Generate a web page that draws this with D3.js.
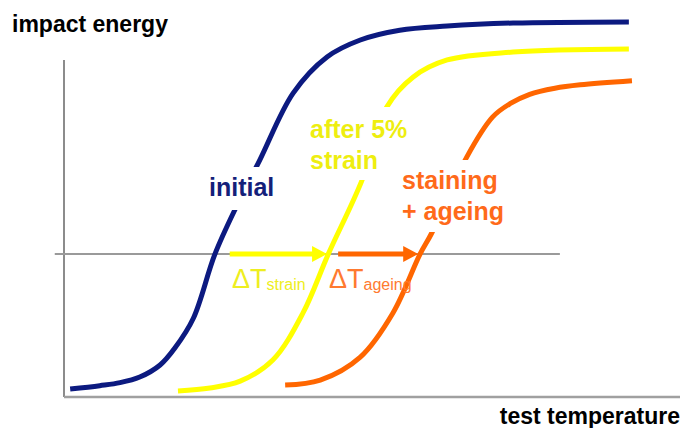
<!DOCTYPE html>
<html>
<head>
<meta charset="utf-8">
<script src="https://cdn.jsdelivr.net/npm/d3@7"></script>
<style>
  body { margin: 0; background: white; }
  svg { display: block; font-family: "Liberation Sans", Arial, sans-serif; }
</style>
</head>
<body>
<div class="chart"></div>
<script>
// series (temperature 0..100, energy 0..100, arbitrary units)
var seriesNames = ["initial", "after 5% strain", "staining + ageing"];
var seriesColors = ["#0c1a80", "#ffff00", "#ff6600"];

var initialT = [1, 5.8, 9.1, 12.3, 15.6, 18.0, 21.0, 24.5, 28.1, 31.8, 37.2, 42.7, 48.1, 54.5, 62.2, 72.9, 91.7];
var initialE = [2.1, 3.0, 3.8, 5.3, 8.5, 13.0, 20.9, 37.9, 50.9, 62.9, 80.6, 90.2, 94.7, 97.3, 98.4, 99.2, 99.5];

var strainT = [18.5, 23.7, 28.6, 33.9, 38.8, 42.9, 48.4, 52.4, 56.7, 62.2, 72.9, 91.7];
var strainE = [1.6, 2.4, 4.2, 9.8, 22.3, 37.9, 57.6, 76.9, 84.9, 89.4, 91.5, 92.3];

var ageingT = [35.9, 41.6, 48.1, 53.4, 57.8, 59.7, 65.4, 69.6, 72.4, 75.6, 79.7, 83.8, 92.2];
var ageingE = [3.2, 4.5, 10.6, 22.3, 37.9, 43.5, 63.7, 74.3, 77.8, 80.3, 81.9, 82.8, 83.9];

// reference energy level and the two shifts
var refLevel = 37.9;
var refLine = [-1.5, 80.5];
var shiftStrain = [26.9, 42.7];
var shiftAgeing = [44.5, 57.5];

var W = 685, H = 428;
var svg = d3.select(".chart").append("svg")
            .attr("width", W)
            .attr("height", H)
            .style("background-color", "white");

var x = d3.scaleLinear().domain([0, 100]).range([64, 680]);
var y = d3.scaleLinear().domain([0, 100]).range([397, 20]);

// axes (plain lines, no ticks)
svg.append("line")
   .attr("x1", x(0)).attr("y1", y(89.4))
   .attr("x2", x(0)).attr("y2", y(0))
   .attr("stroke", "#8c8c8c").attr("stroke-width", 2);
svg.append("line")
   .attr("x1", x(0)).attr("y1", y(0))
   .attr("x2", x(100)).attr("y2", y(0))
   .attr("stroke", "#a0a0a0").attr("stroke-width", 2.5);

// reference level line
svg.append("line")
   .attr("x1", x(refLine[0])).attr("y1", y(refLevel))
   .attr("x2", x(refLine[1])).attr("y2", y(refLevel))
   .attr("stroke", "#9a9a9a").attr("stroke-width", 2);

// curves
var line = d3.line()
             .x(function(d) { return x(d[0]); })
             .y(function(d) { return y(d[1]); })
             .curve(d3.curveCatmullRom.alpha(0.5));

var curves = [d3.zip(initialT, initialE), d3.zip(strainT, strainE), d3.zip(ageingT, ageingE)];
curves.forEach(function(c, i) {
  svg.append("path")
     .datum(c)
     .attr("d", line)
     .attr("fill", "none")
     .attr("stroke", seriesColors[i])
     .attr("stroke-width", 5)
     .attr("stroke-linecap", "butt");
});

// arrows
function arrow(span, color) {
  var x0 = x(span[0]), x1 = x(span[1]), yy = y(refLevel);
  svg.append("line")
     .attr("x1", x0).attr("y1", yy)
     .attr("x2", x1 - 12).attr("y2", yy)
     .attr("stroke", color).attr("stroke-width", 5);
  svg.append("path")
     .attr("d", "M" + (x1 - 15) + "," + (yy - 8) + "L" + x1 + "," + yy + "L" + (x1 - 15) + "," + (yy + 8) + "Z")
     .attr("fill", color);
}
arrow(shiftStrain, "#ffff00");
arrow(shiftAgeing, "#ff6600");

// label boxes hide the curve beneath the text
var boxes = [[200, 167, 88, 43], [302, 107, 125, 73], [395, 160, 125, 72]];
boxes.forEach(function(b) {
  svg.append("rect")
     .attr("x", b[0]).attr("y", b[1])
     .attr("width", b[2]).attr("height", b[3])
     .attr("fill", "white");
});

function label(lines, lx, ly, color) {
  lines.forEach(function(t, i) {
    svg.append("text")
       .attr("x", lx).attr("y", ly + i * 31)
       .text(t)
       .style("font-size", "25px")
       .style("font-weight", "bold")
       .style("fill", color);
  });
}
label(["initial"], 209, 196, "#14207a");
label(["after 5%", "strain"], 310, 138, "#eeee10");
label(["staining", "+ ageing"], 402, 189, "#ff6a1a");

// delta T labels
function delta(sub, lx, color) {
  var t = svg.append("text")
             .attr("x", lx).attr("y", 288)
             .style("fill", color);
  t.append("tspan").text("ΔT").style("font-size", "27px");
  t.append("tspan").text(sub).attr("dy", 2).style("font-size", "16px");
}
delta("strain", 232, "#eeee20");
delta("ageing", 329, "#ff7a30");

// axis titles
svg.append("text")
   .attr("x", 12).attr("y", 32)
   .text("impact energy")
   .style("font-size", "23px")
   .style("font-weight", "bold")
   .style("fill", "black");
svg.append("text")
   .attr("x", 680).attr("y", 424)
   .attr("text-anchor", "end")
   .text("test temperature")
   .style("font-size", "23px")
   .style("font-weight", "bold")
   .style("fill", "black");
</script>
</body>
</html>
